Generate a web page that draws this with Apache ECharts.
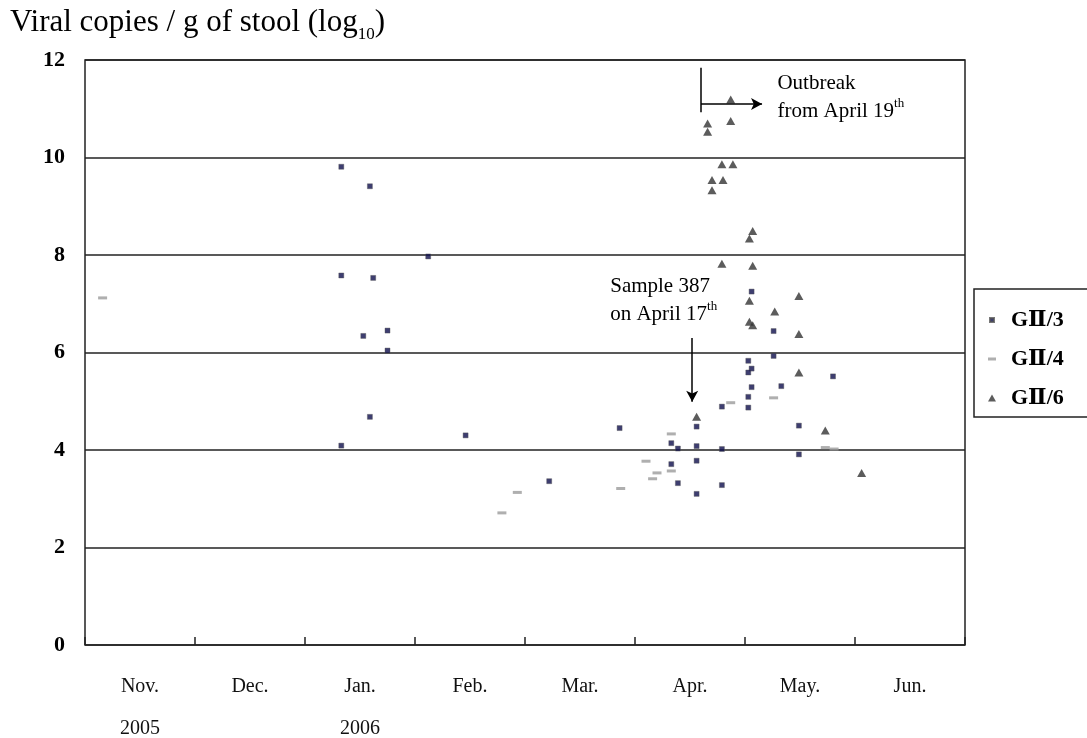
<!DOCTYPE html>
<html>
<head>
<meta charset="utf-8">
<script src="https://cdn.jsdelivr.net/npm/echarts@6/dist/echarts.min.js"></script>
<style>
  html, body { margin: 0; padding: 0; background: #fff; }
  #chart { width: 1087px; height: 738px; }
</style>
</head>
<body>
<div id="chart"></div>
<script>
const SERIF = '"Liberation Serif", "DejaVu Serif", serif';

// x: months counted from 1 Nov 2005 (Nov = 0 ... Jun = 7), y: log10 viral copies per g of stool
const monthLabels = ['Nov.', 'Dec.', 'Jan.', 'Feb.', 'Mar.', 'Apr.', 'May.', 'Jun.'];
const yearLabels  = ['2005', '', '2006', '', '', '', '', ''];

const gii3 = [
  [2.33, 9.81], [2.59, 9.41], [3.12, 7.97], [2.33, 7.58], [2.62, 7.53],
  [2.75, 6.45], [2.53, 6.34], [2.75, 6.04], [2.59, 4.68], [3.46, 4.30],
  [2.33, 4.09], [4.22, 3.36], [4.86, 4.45], [5.33, 4.14], [5.39, 4.03],
  [5.33, 3.71], [5.39, 3.32], [5.56, 4.48], [5.56, 4.08], [5.56, 3.78],
  [5.56, 3.10], [5.79, 4.89], [5.79, 4.02], [5.79, 3.28], [6.06, 7.25],
  [6.26, 6.44], [6.26, 5.93], [6.03, 5.83], [6.06, 5.67], [6.03, 5.59],
  [6.80, 5.51], [6.33, 5.31], [6.06, 5.29], [6.03, 5.09], [6.03, 4.87],
  [6.49, 4.50], [6.49, 3.91]
];

const gii4 = [
  [0.16, 7.12], [3.79, 2.71], [3.93, 3.13], [4.87, 3.21], [5.10, 3.77],
  [5.16, 3.41], [5.20, 3.53], [5.33, 4.33], [5.33, 3.57], [5.87, 4.97],
  [6.26, 5.07], [6.73, 4.05], [6.81, 4.02]
];

const gii6 = [
  [5.87, 11.19], [5.66, 10.70], [5.66, 10.53], [5.87, 10.75], [5.79, 9.86],
  [5.89, 9.86], [5.70, 9.54], [5.80, 9.54], [5.70, 9.33], [6.07, 8.49],
  [6.04, 8.34], [5.79, 7.82], [6.07, 7.78], [6.49, 7.16], [6.04, 7.06],
  [6.27, 6.84], [6.04, 6.63], [6.07, 6.56], [6.49, 6.38], [6.49, 5.59],
  [5.56, 4.68], [6.73, 4.40], [7.06, 3.53]
];

// annotation anchors (month position, log10 value)
const outbreakDay = 5.6;     // 19 April
const sample387Day = 5.52;   // 17 April

const chart = echarts.init(document.getElementById('chart'), null, { renderer: 'canvas' });

const noteRich = {
  a: { fontFamily: SERIF, fontSize: 21, lineHeight: 28, color: '#000' },
  s: { fontFamily: SERIF, fontSize: 13, lineHeight: 18, verticalAlign: 'top', color: '#000' }
};

chart.setOption({
  animation: false,
  backgroundColor: '#fff',
  title: {
    text: '{a|Viral copies / g of stool (log}{s|10}{a|)}',
    left: 10, top: 3, padding: 0,
    textStyle: {
      fontWeight: 'normal',
      rich: {
        a: { fontFamily: SERIF, fontSize: 31, fontWeight: 'normal', lineHeight: 40, color: '#000' },
        s: { fontFamily: SERIF, fontSize: 17, fontWeight: 'normal', lineHeight: 14, verticalAlign: 'bottom', color: '#000' }
      }
    }
  },
  grid: {
    left: 85, right: 122, top: 60, bottom: 93,
    containLabel: false, outerBoundsMode: 'none',
    show: true, borderColor: '#222', borderWidth: 1.5, backgroundColor: 'transparent'
  },
  legend: {
    orient: 'vertical', left: 974, top: 289,
    padding: [20, 40, 8, 10], itemGap: 17, itemWidth: 21, itemHeight: 12,
    backgroundColor: '#fff', borderColor: '#222', borderWidth: 1.5,
    selectedMode: false,
    textStyle: { fontFamily: SERIF, fontSize: 22, fontWeight: 'bold', color: '#000', lineHeight: 22 },
    data: [
      { name: 'GⅡ/3', icon: 'path://M0,0M21,12M5,4h4v4h-4z' },
      { name: 'GⅡ/4', icon: 'path://M0,0M21,12M3,4.5h8v3h-8z' },
      { name: 'GⅡ/6', icon: 'path://M0,0M21,12M7,2.5L11,9.5L3,9.5z' }
    ]
  },
  xAxis: [
    {
      type: 'value', min: 0, max: 8, interval: 1,
      axisLine: { show: false },
      axisTick: { show: true, inside: true, length: 8, lineStyle: { color: '#222', width: 1.5 } },
      axisLabel: { show: false },
      splitLine: { show: false }
    },
    {
      type: 'category', data: monthLabels, boundaryGap: true, position: 'bottom',
      axisLine: { show: false }, axisTick: { show: false }, splitLine: { show: false },
      axisLabel: {
        interval: 0, margin: 21, lineHeight: 42,
        fontFamily: SERIF, fontSize: 20, color: '#111',
        formatter: (v, i) => v + '\n' + yearLabels[i]
      }
    }
  ],
  yAxis: {
    type: 'value', min: 0, max: 12, interval: 2,
    axisLine: { show: false },
    axisTick: { show: false },
    axisLabel: { margin: 20, fontFamily: SERIF, fontSize: 22, fontWeight: 'bold', color: '#000' },
    splitLine: { show: true, lineStyle: { color: '#222', width: 1.5 } }
  },
  series: [
    {
      type: 'scatter', name: 'GⅡ/3', data: gii3, silent: true,
      symbol: 'rect', symbolSize: [5, 5],
      itemStyle: { color: '#0e0e4c', borderColor: '#555', borderWidth: 0.5 }
    },
    {
      type: 'scatter', name: 'GⅡ/4', data: gii4, silent: true,
      symbol: 'rect', symbolSize: [9, 3],
      itemStyle: { color: '#9b9b9b' }
    },
    {
      type: 'scatter', name: 'GⅡ/6', data: gii6, silent: true,
      symbol: 'triangle', symbolSize: [9, 8],
      itemStyle: { color: '#333' },
      markLine: {
        silent: true, animation: false,
        symbol: ['none', 'arrow'], symbolSize: [9, 11],
        label: { show: false },
        lineStyle: { color: '#000', width: 1.5, type: 'solid' },
        emphasis: { disabled: true },
        data: [
          [{ coord: [outbreakDay, 11.84], symbol: 'none' }, { coord: [outbreakDay, 10.93], symbol: 'none' }],
          [{ coord: [outbreakDay, 11.10], symbol: 'none' }, { coord: [6.155, 11.10], symbol: 'arrow' }],
          [{ coord: [sample387Day, 6.30], symbol: 'none' }, { coord: [sample387Day, 4.99], symbol: 'arrow' }]
        ]
      },
      markPoint: {
        silent: true, animation: false,
        symbol: 'circle', symbolSize: 1,
        itemStyle: { color: 'rgba(0,0,0,0)' },
        label: { show: true, position: 'right', distance: 0, rich: noteRich },
        data: [
          { coord: [6.29, 11.24], label: { formatter: '{a|Outbreak}\n{a|from April 19}{s|th}' } },
          { coord: [4.77, 7.07], label: { formatter: '{a|Sample 387}\n{a|on April 17}{s|th}' } }
        ]
      }
    }
  ]
});
</script>
</body>
</html>
